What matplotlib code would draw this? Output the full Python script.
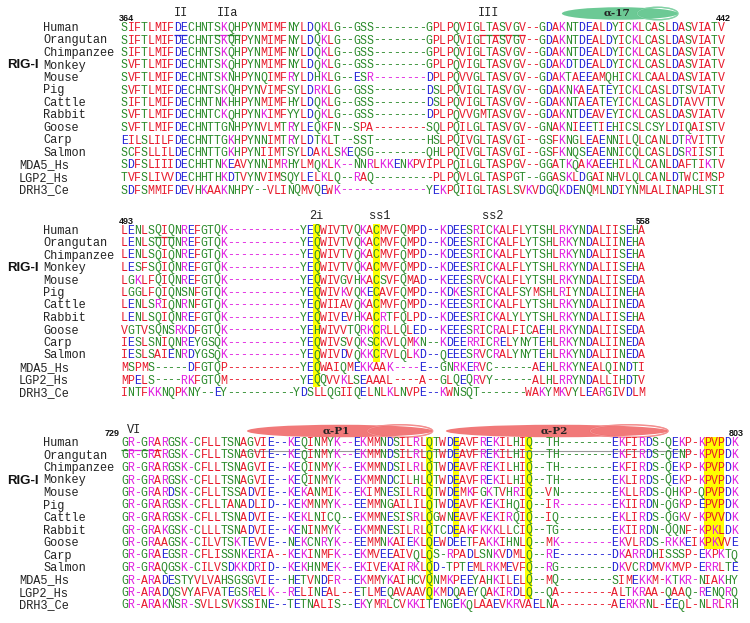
import matplotlib
matplotlib.use("Agg")
import matplotlib.pyplot as plt
from matplotlib.patches import Ellipse, Rectangle

# ---------------- data ----------------
species = ["Human", "Orangutan", "Chimpanzee", "Monkey", "Mouse", "Pig", "Cattle",
           "Rabbit", "Goose", "Carp", "Salmon", "MDA5_Hs", "LGP2_Hs", "DRH3_Ce"]
group_label = "RIG-I"

block1_start, block1_end = "364", "442"
block1 = [
    "SIFTLMIFDECHNTSKQHPYNMIMFNYLDQKLG--GSS--------GPLPQVIGLTASVGV--GDAKNTDEALDYICKLCASLDASVIATV",
    "SIFTLMIFDECHNTSKQHPYNMIMFNYLDQKLG--GSS--------GPLPQVIGLTASVGV--GDAKNTDEALDYICKLCASLDASVIATV",
    "SIFTLMIFDECHNTSKQHPYNMIMFNYLDQKLG--GSS--------GPLPQVIGLTASVGV--GDAKNTDEALDYICKLCASLDASVIATV",
    "SVFTLMIFDECHNTSKQHPYNMIMFNYLDQKLG--GSS--------GPLPQVIGLTASVGV--GDAKDTDEALDYICKLCASLDASVIATV",
    "SVFTLMIFDECHNTSKNHPYNQIMFRYLDHKLG--ESR--------DPLPQVVGLTASVGV--GDAKTAEEAMQHICKLCAALDASVIATV",
    "SVFTLMIFDECHNTSKQHPYNVIMFSYLDRKLG--GSS--------DSLPQVIGLTASVGV--GDAKNKAEATEYICKLCASLDTSVIATV",
    "SIFTLMIFDECHNTNKHHPYNMIMFHYLDQKLG--GSS--------DSLPQVIGLTASVGV--GDAKNTAEATEYICKLCASLDTAVVTTV",
    "SVFTLMIFDECHNTCKQHPYNKIMFYYLDQKLG--GSS--------DPLPQVVGMTASVGV--GDAKNTDEAVEYICKLCASLDASVIATV",
    "SVFTLMIFDECHNTTGNHPYNVLMTRYLEQKFN--SPA--------SQLPQILGLTASVGV--GNAKNIEETIEHICSLCSYLDIQAISTV",
    "EILSLILFDECHNTTGKHPYNNIMTRYLDTKLT--SST--------HSLPQIVGLTASVGI--GSFKNGLEAENNILQLCANLDTRVITTV",
    "SCFSLLILDECHNTTGKHPYNIIMTSYLDAKLSKEQSG--------QHLPQIVGLTASVGI--GSFKNQSEAENNICQLCASLDSRIISTI",
    "SDFSLIIIDECHHTNKEAVYNNIMRHYLMQKLK--NNRLKKENKPVIPLPQILGLTASPGV--GGATKQAKAEEHILKLCANLDAFTIKTV",
    "TVFSLIVVDECHHTHKDTVYNVIMSQYLELKLQ--RAQ---------PLPQVLGLTASPGT--GGASKLDGAINHVLQLCANLDTWCIMSP",
    "SDFSMMIFDEVHKAAKNHPY--VLINQMVQEWK-------------YEKPQIIGLTASLSVKVDGQKDENQMLNDIYNMLALINAPHLSTI",
]

block2_start, block2_end = "493", "558"
block2 = [
    "LENLSQIQNREFGTQK-----------YEQWIVTVQKACMVFQMPD--KDEESRICKALFLYTSHLRKYNDALIISEHA",
    "LENLSQIQNREFGTQK-----------YEQWIVTVQKACMVFQMPD--KDEESRICKALFLYTSHLRKYNDALIINEHA",
    "LENLSQIQNREFGTQK-----------YEQWIVTVQKACMVFQMPD--KDEESRICKALFLYTSHLRKYNDALIISEHA",
    "LESFSQIQNREFGTQK-----------YEQWIVTVQKACMVFQMPD--KDEESRICKALFLYTSHLRKYNDALIISEHA",
    "LGKLFQIQNREFGTQK-----------YEQWIVGVHKACSVFQMAD--KEEESRVCKALFLYTSHLRKYNDALIISEDA",
    "LGGLFQIQNSNFGTQK-----------YEQWIVKVQKECAVFQMPD--KDKESRICKALFSYMSHLRIYNDALIINEHA",
    "LENLSRIQNRNFGTQK-----------YEQWIIAVQKACMVFQMPD--KEEESRICKALFLYTSHLRKYNDALIINEDA",
    "LENLSQIQNREFGTQK-----------YEQWIVEVHKACRTFQLPD--KDEESRICKALYLYTSHLRKYNDALIISEHA",
    "VGTVSQNSRKDFGTQK-----------YEHWIVVTQRKCRLLQLED--KEEESRICRALFICAEHLRKYNDALIISEDA",
    "IESLSNIQNREYGSQK-----------YEQWIVSVQKSCKVLQMKN--KDEERRICRELYNYTEHLRKYNDALIINEDA",
    "IESLSAIENRDYGSQK-----------YEQWIVDVQKKCRVLQLKD--QEEESRVCRALYNYTEHLRKYNDALIINEDA",
    "MSPMS-----DFGTQP-----------YEQWAIQMEKKAAK----E--GNRKERVC------AEHLRKYNEALQINDTI",
    "MPELS----RKFGTQM-----------YEQQVVKLSEAAAL----A--GLQEQRVY------ALHLRRYNDALLIHDTV",
    "INTFKKNQPKNY--EY----------YDSLLQGIIQELNLKLNVPE--KWNSQT-------WAKYMKVYLEARGIVDLM",
]

block3_start, block3_end = "729", "803"
block3 = [
    "GR-GRARGSK-CFLLTSNAGVIE--KEQINMYK--EKMMNDSILRLQTWDEAVFREKILHIQ--TH--------EKFIRDS-QEKP-KPVPDK",
    "GR-GRARGSK-CFLLTSNAGVIE--KEQINMYK--EKMMNDSILRLQTWDEAVFREKILHIQ--TH--------EKFIRDS-QENP-KPVPDK",
    "GR-GRARGSK-CFLLTSNAGVIE--KEQINMYK--EKMMNDSILRLQTWDEAVFREKILHIQ--TH--------EKFIRDS-QEKP-KPVPDK",
    "GR-GRARGSK-CFLLTSNAGVIE--KEQINMYK--EKMMNDCILHLQTWDEAVFREKILHIQ--TH--------EKLIRDS-QEKP-KPVPDK",
    "GR-GRARDSK-CFLLTSSADVIE--KEKANMIK--EKIMNESILRLQTWDEMKFGKTVHRIQ--VN--------EKLLRDS-QHKP-QPVPDK",
    "GR-GRARGSK-CFLLTANADLID--KEKMNMYK--EEMMNGAILILQTWDEAVFKEKIHQIQ--IR--------EKIIRDN-QGKP-EPVPDK",
    "GR-GRARGSK-CFLLTSNADVIE--KEKLNICQ--EKMMNESISRLQGWNEAVFKEKIRQIQ--IQ--------EKLIRDS-QGKV-KPVVDK",
    "GR-GRAKGSK-CLLLTSNADVIE--KENINMYK--EKMMNESILRLQTCDEAKFKKKLLCIQ--TG--------EKIIRDN-QQNF-KPKLDK",
    "GR-GRAAGSK-CILVTSKTEVVE--NEKCNRYK--EEMMNKAIEKLQEWDEETFAKKIHNLQ--MK--------EKVLRDS-RKKEIKPKVVE",
    "GR-GRAEGSR-CFLISSNKERIA--KEKINMFK--EKMVEEAIVQLQS-RPADLSNKVDMLQ--RE--------DKARRDHISSSP-EKPKTQ",
    "GR-GRAQGSK-CILVSDKKDRID--KEKHNMEK--EKIVEKAIRKLQD-TPTEMLRKMEVFQ--RG--------DKVCRDMVKMVP-ERRLTE",
    "GR-ARADESTYVLVAHSGSGVIE--HETVNDFR--EKMMYKAIHCVQNMKPEEYAHKILELQ--MQ--------SIMEKKM-KTKR-NIAKHY",
    "GR-ARADQSVYAFVATEGSRELK--RELINEAL--ETLMEQAVAAVQKMDQAEYQAKIRDLQ--QA--------ALTKRAA-QAAQ-RENQRQ",
    "GR-ARAKNSR-SVLLSVKSSINE--TETNALIS--EKYMRLCVKKITENGEKQLAAEVKRVAELNA--------AERKRNL-EEQL-NLRLRH",
]

# motif labels: (text, column)
block1_motifs = [("II", 8.5), ("IIa", 15.5), ("III", 55.0)]
block2_motifs = [("2i", 29.0), ("ss1", 38.5), ("ss2", 55.5)]
block3_motifs = [("VI", 1.5)]
helices1 = [("\u03b1-17", 66.5, 84.0, "#5cc48a")]
helices3 = [("\u03b1-P1", 19.0, 47.0, "#f06a6a"), ("\u03b1-P2", 49.0, 82.5, "#f06a6a")]
# yellow highlighted columns: (first col, last col, number of rows)
highlights2 = [(29, 29, 13), (38, 38, 11)]
highlights3 = [(46, 46, 13), (50, 50, 8), (61, 61, 13), (88, 90, 9)]

# ---------------- style ----------------
RED, GREEN, BLUE, MAG, GRAY = "#e8182a", "#2a8a2a", "#2323d6", "#e01ee0", "#8a8a8a"
def aa_color(c):
    if c in "AVFPMILW":
        return RED
    if c in "DE":
        return BLUE
    if c in "RK":
        return MAG
    if c in "STYHCNGQ":
        return GREEN
    return GRAY

X0 = 121.0
CW = 6.63
RS = 12.5
seqfont = dict(family="Liberation Mono", fontsize=8.3)

fig = plt.figure(figsize=(7.5, 6.23), dpi=100)
ax = fig.add_axes([0, 0, 1, 1])
ax.set_xlim(0, 750)
ax.set_ylim(623, 0)
ax.axis("off")

def colx(i):
    return X0 + (i + 0.5) * CW

def draw_block(seqs, y0, start, end, motifs, helices, highlights, motif_y, num_y,
               start_right=False):
    n = len(seqs[0])
    for c0, c1, nrows in highlights:
        ax.add_patch(Rectangle((X0 + c0 * CW, y0 - RS / 2), (c1 - c0 + 1) * CW, nrows * RS,
                               facecolor="#ffff00", edgecolor="none", zorder=0))
    for r, s in enumerate(seqs):
        y = y0 + r * RS
        last = GRAY
        for i, ch in enumerate(s):
            if ch == "-":
                col = last
            else:
                col = aa_color(ch)
                last = col
            ax.text(colx(i), y, ch, color=col, ha="center", va="center", zorder=3, **seqfont)
        xname = 43 if r < 11 else 19
        ax.text(xname, y, species[r], ha="left", va="center", color="#222222",
                family="Liberation Mono", fontsize=8.6)
    ax.text(7, y0 + 3 * RS, group_label, ha="left", va="center", fontsize=9.5,
            fontweight="bold", family="Liberation Sans", color="#111111")
    if start_right:
        ax.text(X0 - 1, num_y, start, ha="right", va="center", fontsize=6.5,
                fontweight="bold", family="Liberation Sans", color="#111111")
    else:
        ax.text(X0 - 2, num_y, start, ha="left", va="center", fontsize=6.5,
                fontweight="bold", family="Liberation Sans", color="#111111")
    ax.text(X0 + n * CW + 6, num_y, end, ha="right", va="center", fontsize=6.5,
            fontweight="bold", family="Liberation Sans", color="#111111")
    for txt, c in motifs:
        ax.text(X0 + (c + 0.5) * CW, motif_y, txt, ha="center", va="center",
                fontsize=8.6, family="Liberation Mono", color="#222222")
    for txt, c0, c1, fc in helices:
        xa, xb = X0 + c0 * CW, X0 + c1 * CW
        yc = motif_y + 1
        ax.add_patch(Ellipse(((xa + xb) / 2, yc), xb - xa, 12.5, facecolor=fc,
                             edgecolor="none", alpha=0.9, zorder=1))
        w2 = (xb - xa) * 0.35
        ax.add_patch(Ellipse((xb - w2 / 2, yc), w2, 12.5, facecolor="none",
                             edgecolor=fc, lw=1.0, zorder=2))
        ax.add_patch(Ellipse((xb - w2 / 2, yc), w2, 12.5, facecolor="none",
                             edgecolor="white", lw=0.5, alpha=0.35, zorder=2))
        ax.text((xa + xb) / 2 - 3, yc, txt, ha="center", va="center", fontsize=7.5,
                fontweight="bold", family="DejaVu Serif", color="#222222", zorder=3)

def underline(y0, c0, c1, color, yoff=6.5, lw=0.9):
    ax.plot([X0 + c0 * CW, X0 + (c1 + 1) * CW], [y0 + yoff, y0 + yoff], color=color, lw=lw,
            solid_capstyle="butt", zorder=2)

Y1, Y2, Y3 = 28.0, 230.5, 443.0
draw_block(block1, Y1, block1_start, block1_end, block1_motifs, helices1, [], 12.5, 18.5)
draw_block(block2, Y2, block2_start, block2_end, block2_motifs, [], highlights2, 216.0, 221.0)
draw_block(block3, Y3, block3_start, block3_end, block3_motifs, helices3, highlights3,
           430.0, 433.5, start_right=True)

def colored_underline(y0, seq, c0, c1):
    last = GRAY
    for i in range(c0, c1 + 1):
        ch = seq[i]
        col = aa_color(ch) if ch != "-" else last
        if ch != "-":
            last = col
        underline(y0, i, i, col)

colored_underline(Y1, block1[0], 8, 9)
colored_underline(Y1, block1[0], 14, 17)
colored_underline(Y1, block1[0], 54, 60)
colored_underline(Y2, block2[0], 5, 7)
colored_underline(Y3, block3[0], 0, 5)
underline(Y3, 18, 85, "#999999", yoff=7.5, lw=0.8)

fig.savefig("out.png", dpi=100)
